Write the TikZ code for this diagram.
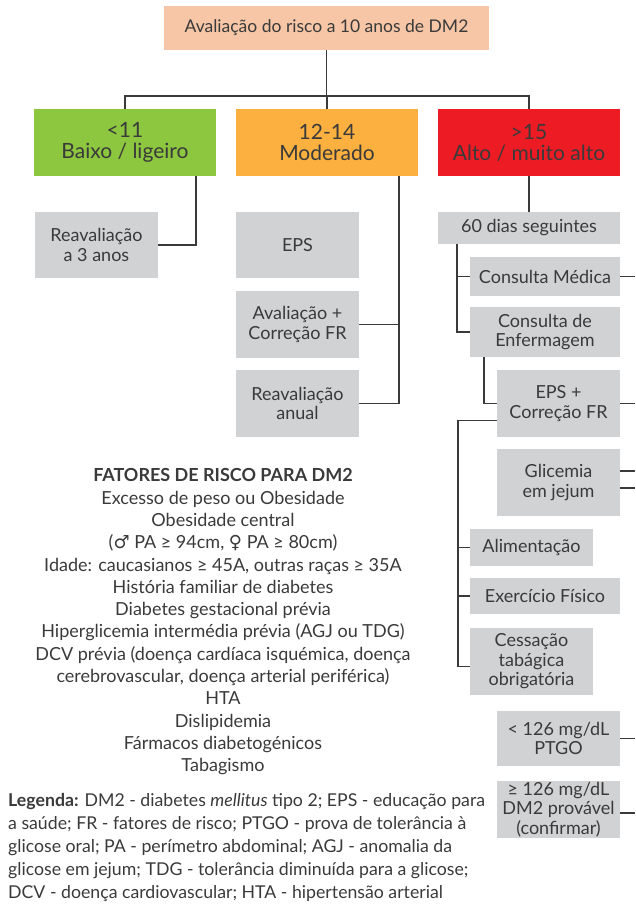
\documentclass[tikz,border=0pt]{standalone}
\usepackage{fontspec}
\setmainfont{Lato}
\newfontfamily\symfont{DejaVu Sans}
\usepackage{xcolor}
\usetikzlibrary{calc}

\definecolor{peach}{HTML}{F6C6A6}
\definecolor{riskgreen}{HTML}{8DC63F}
\definecolor{riskorange}{HTML}{FBB040}
\definecolor{riskred}{HTML}{ED1C24}
\definecolor{boxgrey}{HTML}{D1D2D4}
\definecolor{ink}{HTML}{3A3A3A}

\begin{document}
\begin{tikzpicture}[x=1pt, y=-1pt,
  every node/.style={text=ink, inner sep=0pt},
  level/.style={fill=#1, minimum width=182, minimum height=67, align=center, font=\fontsize{21}{21}\selectfont},
  grey/.style 2 args={fill=boxgrey, minimum width=#1, minimum height=#2, align=center, font=\fontsize{18}{19.5}\selectfont},
  link/.style={draw=ink, line width=1.2pt}]
\useasboundingbox (0,0) rectangle (635,904);

% score and the three risk levels
\node[fill=peach, minimum width=325, minimum height=44, font=\fontsize{17.5}{20}\selectfont] (avaliacao) at (326.5,28) {Avaliação do risco a 10 anos de DM2};
\node[level=riskgreen] (low) at (125,142.5) {<11\\Baixo / ligeiro};
\node[level=riskorange] (mid) at (327,142.5) {12-14\\Moderado};
\node[level=riskred] (high) at (529,142.5) {>15\\Alto / muito alto};

% low and moderate branches
\node[grey={123}{66}] (reav3) at (96.5,245) {Reavaliação\\a 3 anos};
\node[grey={123}{66}] (eps) at (297.5,245) {EPS};
\node[grey={123}{67}] (avalfr) at (297.5,324.5) {Avaliação +\\Correção FR};
\node[grey={123}{67}] (anual) at (297.5,403.5) {Reavaliação\\anual};

% high branch
\node[grey={182}{32}] (dias) at (529,228) {60 dias seguintes};
\node[grey={150}{39}] (cmed) at (545,276.5) {Consulta Médica};
\node[grey={150}{50}] (cenf) at (545,332) {Consulta de\\Enfermagem};
\node[grey={123}{67}] (epsfr) at (558.5,403.5) {EPS +\\Correção FR};
\node[grey={123}{67}] (glic) at (558.5,482.5) {Glicemia\\em jejum};
\node[grey={123}{37}] (alim) at (531.5,547.5) {Alimentação};
\node[grey={150}{36}] (exerc) at (545,596) {Exercício Físico};
\node[grey={123}{67}] (cess) at (531.5,661.5) {Cessação\\tabágica\\obrigatória};
\node[grey={123}{55}] (ptgo) at (558.5,738.5) {< 126 mg/dL\\PTGO};
\node[grey={123}{57}] (dm2p) at (558.5,809.5) {≥ 126 mg/dL\\DM2 provável\\(confirmar)};

% connectors
\coordinate (bus) at (0,96);
\coordinate (rim) at (635,0);
\coordinate (spine) at (458,0);
\draw[link] (avaliacao.south) -- (avaliacao.south |- bus);
\draw[link] (low.north) |- (bus -| high.north) -- (high.north);
\draw[link] (mid.north) -- (mid.north |- bus);
\coordinate (lowdrop) at ([xshift=71]low.south);
\draw[link] (lowdrop) |- (reav3.east);
\coordinate (middrop) at ([xshift=72]mid.south);
\draw[link] (middrop) |- (anual.east);
\draw[link] (avalfr.east) -- (avalfr.east -| middrop);
\draw[link] (high.south) -- (dias.north);
\coordinate (diasdrop) at ([xshift=-72]dias.south);
\draw[link] (diasdrop) |- (cenf.west);
\draw[link] (diasdrop |- cmed.west) -- (cmed.west);
\draw[link] ([xshift=-61]cenf.south) |- (epsfr.west);
\coordinate (cessin) at ([yshift=-5]cess.west);
\draw[link] ([yshift=-17]epsfr.west) -| (spine |- cessin) -- (cessin);
\foreach \b in {alim,exerc}
  \draw[link] (spine |- \b.west) -- (\b.west);
% lines leaving on the right
\coordinate (glicA) at ([yshift=11.5]glic.east);
\coordinate (glicB) at ([yshift=-5.5]glic.east);
\coordinate (dm2out) at ([yshift=-3.5]dm2p.east);
\foreach \b in {cmed.east,epsfr.east,ptgo.east,glicA,glicB,dm2out}
  \draw[link] (\b) -- (\b -| rim);

% risk factor list
\node[anchor=north, align=center, font=\fontsize{18}{22.3}\selectfont] (fatores) at (223,468.5) {\textbf{FATORES DE RISCO PARA DM2}\\
  Excesso de peso ou Obesidade\\
  Obesidade central\\
  ({\symfont ♂} PA ≥ 94cm, {\symfont ♀} PA ≥ 80cm)\\
  Idade: caucasianos ≥ 45A, outras raças ≥ 35A\\
  História familiar de diabetes\\
  Diabetes gestacional prévia\\
  Hiperglicemia intermédia prévia (AGJ ou TDG)\\
  DCV prévia (doença cardíaca isquémica, doença\\
  cerebrovascular, doença arterial periférica)\\
  HTA\\
  Dislipidemia\\
  Fármacos diabetogénicos\\
  Tabagismo};

% legend
\node[anchor=north west, align=left, font=\fontsize{17.7}{22.8}\selectfont] (legenda) at (8,793.5) {\textbf{Legenda:} DM2 - diabetes \textit{mellitus} tipo 2; EPS - educação para\\
  a saúde; FR - fatores de risco; PTGO - prova de tolerância à\\
  glicose oral; PA - perímetro abdominal; AGJ - anomalia da\\
  glicose em jejum; TDG - tolerância diminuída para a glicose;\\
  DCV - doença cardiovascular; HTA - hipertensão arterial};
\end{tikzpicture}
\end{document}
